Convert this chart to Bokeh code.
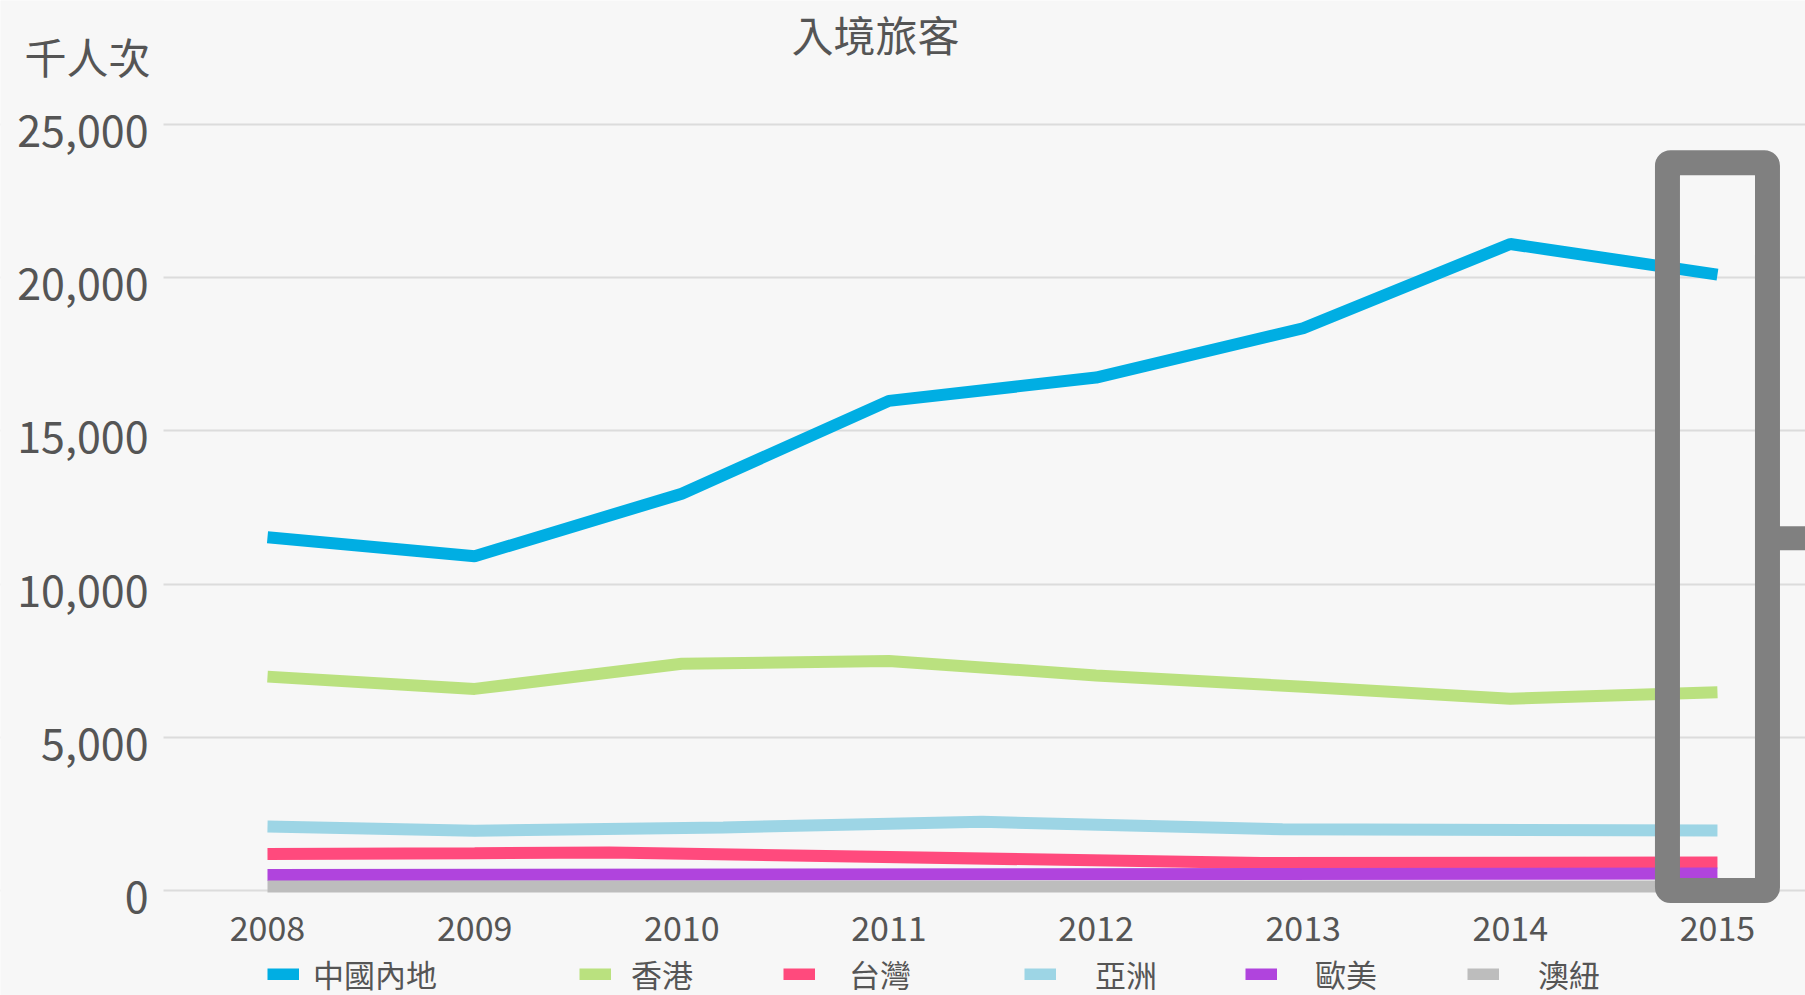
from bokeh.plotting import figure
from bokeh.models import (Range1d, FixedTicker, NumeralTickFormatter, Label,
                          Legend, LegendItem, BoxAnnotation, LinearAxis)
from bokeh.embed import file_html
from bokeh.resources import INLINE

# ---------------- data (thousand person-trips) ----------------
years = [2008, 2009, 2010, 2011, 2012, 2013, 2014, 2015]
tick_labels = ["2008", "2009", "2010", "2011", "2012", "2013", "2014", "2015"]

mainland_x = [2008, 2009, 2010, 2011, 2012, 2013, 2014, 2015]
mainland = [11530, 10910, 12950, 15980, 16740, 18350, 21100, 20100]

hongkong_x = [2008, 2009, 2010, 2011, 2012, 2013, 2014, 2015]
hongkong = [6980, 6580, 7400, 7490, 7020, 6650, 6260, 6470]

taiwan_x = [2008, 2009, 2009.65, 2012.8, 2015]
taiwan = [1190, 1215, 1240, 895, 910]

asia_x = [2008, 2009, 2010.2, 2011.45, 2012.9, 2015]
asia = [2090, 1950, 2060, 2240, 2000, 1960]

euam_x = [2008, 2015]
euam = [505, 555]

aunz_x = [2008, 2015]
aunz = [130, 130]

series_names = ["中國內地", "香港", "台灣", "亞洲", "歐美", "澳紐"]
y_ticks = [0, 5000, 10000, 15000, 20000, 25000]
highlight_year = 2015

# ---------------- style ----------------
FONT = "Noto Sans CJK TC"
TXT = "#555555"
BG = "#f7f7f7"
colors = ["#00aee3", "#bae17f", "#ff4a7d", "#9dd5e5", "#b044dd", "#bdbdbd"]

W, H = 1805, 995
X0, X1 = 2006.711, 2015.425      # data range over the full canvas width
Y0, Y1 = -3427, 29047            # data range over the full canvas height
AXIS_X = 2007.498                # where the value axis sits
AXIS_Y = -490                    # where the year axis sits
LABEL_SHIFT = 212                # value-label vertical offset (~6.5 px down)

p = figure(width=W, height=H, output_backend="svg", toolbar_location=None,
           x_range=Range1d(X0, X1), y_range=Range1d(Y0, Y1),
           y_axis_location=None,
           min_border_left=0, min_border_right=0, min_border_top=0,
           min_border_bottom=0)
p.background_fill_color = BG
p.border_fill_color = BG
p.outline_line_color = None

p.xgrid.grid_line_color = None
p.ygrid.ticker = FixedTicker(ticks=y_ticks)
p.ygrid.grid_line_color = "#dcdcdc"
p.ygrid.grid_line_width = 2

p.extra_y_ranges = {"ylab": Range1d(Y0 + LABEL_SHIFT, Y1 + LABEL_SHIFT)}
yax = LinearAxis(y_range_name="ylab", ticker=FixedTicker(ticks=y_ticks),
                 formatter=NumeralTickFormatter(format="0,0"),
                 fixed_location=AXIS_X)
p.add_layout(yax, "left")

p.xaxis.ticker = FixedTicker(ticks=years)
p.xaxis.major_label_overrides = {y: t for y, t in zip(years, tick_labels)}
p.xaxis.fixed_location = AXIS_Y
for ax in (p.xaxis[0], yax):
    ax.axis_line_color = None
    ax.major_tick_line_color = None
    ax.minor_tick_line_color = None
    ax.major_label_text_color = TXT
    ax.major_label_text_font = FONT
yax.major_label_text_font_size = "43px"
yax.major_label_standoff = 9
p.xaxis.major_label_text_font_size = "34px"
p.xaxis.major_label_standoff = 4

# mask so that grid lines start at the value axis
p.add_layout(BoxAnnotation(right=AXIS_X, fill_color=BG, fill_alpha=1,
                           line_color=None, level="glyph"))

xs = [mainland_x, hongkong_x, taiwan_x, asia_x, euam_x, aunz_x]
ys = [mainland, hongkong, taiwan, asia, euam, aunz]
renderers = []
for x, y, c in zip(xs, ys, colors):
    r = p.line(x, y, line_color=c, line_width=12, line_cap="butt")
    renderers.append(r)

# highlight box around the last year
box = BoxAnnotation(left=highlight_year - 0.2414, right=highlight_year + 0.2414,
                    bottom=0, top=23750, fill_alpha=0, fill_color=None,
                    line_color="#808080", line_alpha=1, line_width=25,
                    border_radius=3, level="overlay")
p.add_layout(box)
p.segment(x0=[highlight_year + 0.2414], x1=[highlight_year + 1],
          y0=[11500], y1=[11500], line_color="#808080", line_width=24,
          line_cap="butt", level="overlay")

# title and unit labels
p.add_layout(Label(x=875, y=962, x_units="screen", y_units="screen",
                   text="入境旅客", text_align="center", text_baseline="middle",
                   text_font=FONT, text_font_size="42px", text_color=TXT))
p.add_layout(Label(x=87, y=940, x_units="screen", y_units="screen",
                   text="千人次", text_align="center", text_baseline="middle",
                   text_font=FONT, text_font_size="42px", text_color=TXT))

# legend (one per item to reproduce spacing)
leg_x = [267, 579, 783, 1024, 1245, 1467]
leg_standoff = [14, 20, 34, 39, 38, 39]
for name, r, lx, st in zip(series_names, renderers, leg_x, leg_standoff):
    lg = Legend(items=[LegendItem(label=name, renderers=[r])],
                location=(lx, -1), orientation="horizontal",
                glyph_width=32, glyph_height=12, label_standoff=st,
                label_height=38, padding=0, margin=0, spacing=0,
                border_line_color=None, background_fill_alpha=0,
                label_text_font=FONT, label_text_font_size="31px",
                label_text_color=TXT, label_text_baseline="middle")
    p.add_layout(lg)

open("out.html", "w").write(file_html(p, INLINE))
